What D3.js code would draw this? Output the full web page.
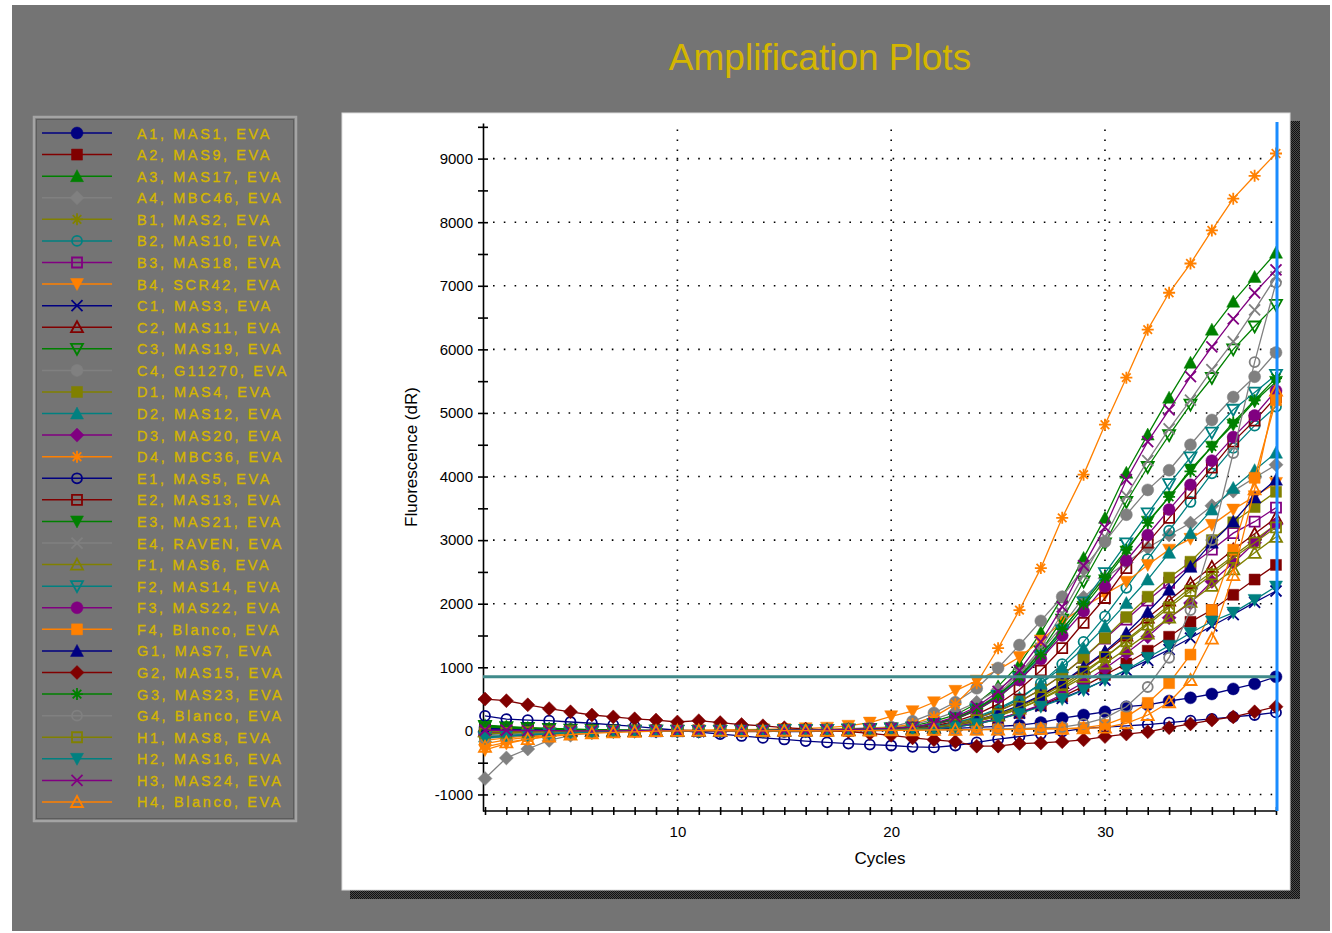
<!DOCTYPE html>
<html><head><meta charset="utf-8">
<script src="https://cdn.jsdelivr.net/npm/d3@7"></script>
<style>body{margin:0;background:#fff}svg{display:block}</style>
</head><body><svg id="c" width="1332" height="933"></svg>
<script>
const title = "Amplification Plots";
const xLabel = "Cycles";
const yLabel = "Fluorescence (dR)";
const labels = ["A1, MAS1, EVA","A2, MAS9, EVA","A3, MAS17, EVA","A4, MBC46, EVA","B1, MAS2, EVA","B2, MAS10, EVA","B3, MAS18, EVA","B4, SCR42, EVA","C1, MAS3, EVA","C2, MAS11, EVA","C3, MAS19, EVA","C4, G11270, EVA","D1, MAS4, EVA","D2, MAS12, EVA","D3, MAS20, EVA","D4, MBC36, EVA","E1, MAS5, EVA","E2, MAS13, EVA","E3, MAS21, EVA","E4, RAVEN, EVA","F1, MAS6, EVA","F2, MAS14, EVA","F3, MAS22, EVA","F4, Blanco, EVA","G1, MAS7, EVA","G2, MAS15, EVA","G3, MAS23, EVA","G4, Blanco, EVA","H1, MAS8, EVA","H2, MAS16, EVA","H3, MAS24, EVA","H4, Blanco, EVA"];
const colors = ["#000080","#800000","#008000","#808080","#808000","#008080","#800080","#ff8000",
  "#000080","#800000","#008000","#808080","#808000","#008080","#800080","#ff8000",
  "#000080","#800000","#008000","#808080","#808000","#008080","#800080","#ff8000",
  "#000080","#800000","#008000","#808080","#808000","#008080","#800080","#ff8000"];
const markers = ["circle","square","triangle","diamond","asterisk","ocircle","osquare","tridown","x","otriangle","otridown",
  "circle","square","triangle","diamond","asterisk","ocircle","osquare","tridown","x","otriangle","otridown",
  "circle","square","triangle","diamond","asterisk","ocircle","osquare","tridown","x","otriangle"];
const cycles = d3.range(1, 39);
const yTickValues = [-1000,0,1000,2000,3000,4000,5000,6000,7000,8000,9000];
const xTickValues = [10,20,30];
const threshold = 850;

const A1 = [50,40,30,25,20,15,10,10,5,5,0,0,-5,-5,-10,-10,-5,0,5, 10,20,30,40,55,70,90,130,200,250,300,380,410,470,520,580,660,740,850];
const A2 = [20,10,0,-10,-10,-5,0,0,5,5,0,-5,-10,-10,-5,0,0,5,10, 15,20,30,60,110,180,280,400,540,700,880,1060,1260,1480,1715,1900,2140,2380,2610];
const A3 = [90,70,50,40,30,20,15,10,10,5,5,0,0,0,5,5,10,15,25, 40,80,150,250,430,700,1050,1550,2100,2720,3350,4060,4660,5240,5790,6310,6750,7140,7520];
const A4 = [-750,-425,-285,-150,-70,-30,-10,0,10,10,5,0,0,5,5,10,15,20,30, 50,100,180,300,450,650,900,1250,1650,2100,2400,2650,2880,3080,3270,3540,3770,3980,4185];
const B1 = [-20,-10,-5,0,0,5,5,0,0,-5,-5,0,0,5,5,5,10,10,15, 20,30,50,90,150,230,350,500,680,900,1150,1430,1700,1980,2250,2500,2750,3000,3250];
const B2 = [-60,-40,-30,-20,-10,-5,0,0,5,5,0,0,-5,-5,0,0,5,10,15, 25,40,60,120,200,330,500,750,1050,1400,1800,2250,2700,3150,3600,4050,4450,4800,5100];
const B3 = [30,20,15,10,5,0,0,-5,-5,0,0,5,5,0,0,5,5,10,15, 25,40,60,120,200,310,460,650,880,1150,1450,1750,2050,2330,2600,2850,3110,3290,3510];
const B4 = [-300,-200,-130,-80,-40,-20,-10,0,5,10,10,15,20,25,30,40,50,80,130, 230,310,450,630,790,960,1160,1420,1715,1950,2150,2345,2610,2850,3020,3240,3480,3690,3900];
const C1 = [40,30,20,15,10,5,0,0,-5,-5,-10,-10,-5,-5,0,0,5,10,15, 20,30,40,70,120,190,280,390,510,650,800,950,1110,1280,1460,1650,1830,2020,2200];
const C2 = [0,0,5,5,0,0,-5,-5,0,0,5,5,0,0,5,10,10,15,20, 25,35,50,90,160,250,380,550,750,980,1230,1500,1780,2050,2320,2580,2850,3100,3350];
const C3 = [80,60,45,30,20,15,10,5,5,0,0,0,5,5,10,10,15,20,30, 40,50,100,190,330,550,850,1250,1750,2350,2950,3600,4150,4650,5130,5550,6000,6360,6700];
const C4 = [-40,-30,-20,-10,-5,0,5,5,10,10,5,5,10,10,15,20,25,35,45, 60,150,280,450,670,990,1350,1730,2110,2560,2975,3400,3790,4100,4500,4890,5250,5570,5950];
const D1 = [-50,-35,-25,-15,-10,-5,0,0,5,5,0,0,5,5,10,10,10,15,20, 30,45,60,120,200,310,460,650,880,1150,1460,1790,2110,2410,2660,3000,3280,3520,3760];
const D2 = [-90,-70,-50,-35,-20,-10,-5,0,0,5,5,0,0,5,5,10,10,15,20, 30,45,70,130,220,350,520,740,1000,1300,1640,2010,2380,2800,3110,3480,3820,4100,4375];
const D3 = [-30,-20,-15,-10,-5,0,0,5,5,0,0,-5,-5,0,0,5,5,10,15, 20,30,40,70,120,190,290,410,570,760,980,1220,1480,1780,2010,2350,2640,2960,3250];
const D4 = [-200,-140,-100,-70,-40,-20,-10,0,0,5,5,10,10,10,15,20,25,30,40, 50,110,220,420,750,1300,1900,2560,3350,4030,4815,5555,6310,6890,7350,7870,8370,8730,9080];
const E1 = [236,185,170,160,140,120,95,70,40,10,-20,-50,-80,-110,-135,-160,-180,-200,-215, -230,-250,-260,-230,-180,-130,-90,-50,-10,40,60,80,100,130,160,190,220,250,290];
const E2 = [10,5,0,0,-5,-5,0,0,5,5,5,0,0,5,5,10,10,15,20, 30,45,80,150,260,420,650,950,1300,1700,2090,2560,2960,3350,3740,4140,4550,4880,5250];
const E3 = [60,45,35,25,15,10,5,5,0,0,0,5,5,5,10,10,15,20,25, 35,50,100,180,320,520,800,1150,1550,1950,2370,2820,3290,3680,4110,4470,4815,5180,5490];
const E4 = [-80,-60,-40,-25,-15,-5,0,5,5,5,0,0,5,5,10,10,15,20,30, 40,50,110,200,350,580,900,1300,1850,2450,3050,3700,4250,4750,5200,5680,6120,6620,7140];
const F1 = [-10,-5,0,0,5,5,0,0,-5,-5,0,0,5,5,5,10,10,15,15, 20,30,50,90,150,240,350,490,660,850,1060,1290,1530,1780,2030,2280,2540,2800,3050];
const F2 = [-100,-75,-55,-40,-25,-15,-5,0,5,5,0,0,5,5,10,10,15,20,25, 35,50,110,200,340,550,830,1180,1580,2020,2480,2950,3420,3880,4300,4690,5050,5320,5600];
const F3 = [20,15,10,5,5,0,0,-5,-5,0,0,5,5,5,10,10,15,20,30, 40,50,100,190,330,530,800,1130,1500,1880,2270,2680,3080,3480,3870,4250,4620,4960,5350];
const F4 = [-150,-110,-80,-60,-40,-25,-15,-5,0,5,5,0,0,-5,-5,0,5,5,10, 10,15,15,20,20,25,25,30,30,50,95,220,440,750,1200,1900,2850,3980,5200];
const G1 = [30,20,15,10,5,5,0,0,-5,-5,0,0,5,5,5,10,10,15,15, 20,30,50,100,170,270,400,560,760,1000,1250,1540,1870,2220,2580,2960,3290,3670,3950];
const G2 = [500,475,410,350,300,250,220,190,170,140,160,130,100,80,50,30,10,-10,-40, -70,-110,-140,-170,-240,-240,-200,-190,-170,-140,-90,-50,-15,50,110,170,220,300,380];
const G3 = [70,55,40,30,20,10,5,5,0,0,5,5,5,10,10,15,20,25,30, 40,50,110,200,350,560,850,1200,1600,2000,2420,2850,3270,3680,4080,4470,4850,5200,5550];
const G4 = [-120,-90,-65,-45,-30,-20,-10,-5,0,0,5,5,0,0,5,5,10,10,10, 15,15,20,20,25,30,35,45,60,110,200,380,690,1150,1900,3000,4370,5800,7050];
const H1 = [-40,-30,-20,-10,-5,0,0,5,5,0,0,-5,0,0,5,5,10,10,15, 20,30,50,100,170,260,380,530,720,930,1160,1410,1670,1940,2200,2460,2720,2960,3200];
const H2 = [-110,-85,-65,-45,-30,-20,-10,-5,0,0,0,5,5,5,10,10,10,15,15, 20,25,30,60,110,180,270,380,500,640,800,960,1150,1340,1540,1720,1860,2060,2270];
const H3 = [10,10,5,5,0,0,0,5,5,5,0,0,5,5,10,10,15,20,30, 40,60,120,220,380,620,950,1400,1950,2600,3200,3950,4550,5050,5570,6040,6480,6890,7250];
const H4 = [-250,-180,-130,-90,-60,-40,-25,-15,-5,0,5,5,0,0,5,5,0,5,5, 10,10,15,15,20,20,25,30,35,40,50,120,250,450,800,1450,2450,3800,5350];

const seriesValues = [A1,A2,A3,A4,B1,B2,B3,B4,C1,C2,C3,C4,D1,D2,D3,D4,E1,E2,E3,E4,F1,F2,F3,F4,G1,G2,G3,G4,H1,H2,H3,H4];

const FONT = "'Liberation Sans', Arial, sans-serif";
const GOLD = "#d4b600";
const svg = d3.select("#c");

// background
svg.append("rect").attr("x",12).attr("y",5).attr("width",1318).attr("height",926).attr("fill","#747474");

// shadow pattern
const defs = svg.append("defs");
const pat = defs.append("pattern").attr("id","chk").attr("width",2).attr("height",2).attr("patternUnits","userSpaceOnUse");
pat.append("rect").attr("width",2).attr("height",2).attr("fill","#4a4a4a");
pat.append("rect").attr("width",1).attr("height",1).attr("fill","#111");
pat.append("rect").attr("x",1).attr("y",1).attr("width",1).attr("height",1).attr("fill","#111");

svg.append("rect").attr("x",350).attr("y",121).attr("width",950).attr("height",778).attr("fill","url(#chk)");
svg.append("rect").attr("x",342).attr("y",113).attr("width",948).attr("height",777).attr("fill","#fff").attr("stroke","#ddd").attr("stroke-width",1);

// title
svg.append("text").attr("x",820).attr("y",70).attr("text-anchor","middle")
  .attr("font-family",FONT).attr("font-size",37).attr("fill",GOLD).text(title);

// scales
const x = d3.scaleLinear().domain([1,38]).range([485,1276]);
const y = d3.scaleLinear().domain([-1260,9560]).range([811,123]);

// grid
const grid = svg.append("g");
grid.selectAll("line.h").data(yTickValues).join("line")
  .attr("x1",x(1)).attr("x2",x(38)).attr("y1",d=>y(d)).attr("y2",d=>y(d))
  .attr("stroke","#000").attr("stroke-width",1.6).attr("stroke-dasharray","1.6,9.2").attr("stroke-dashoffset",-8);
grid.selectAll("line.v").data(xTickValues).join("line")
  .attr("x1",d=>x(d)).attr("x2",d=>x(d)).attr("y1",y(-1260)).attr("y2",y(9560))
  .attr("stroke","#000").attr("stroke-width",1.6).attr("stroke-dasharray","1.6,8.4");

// axes
const yAxis = d3.axisLeft(y).tickValues(d3.range(-1000, 9501, 500)).tickSize(5).tickSizeOuter(0)
  .tickFormat(d => d % 1000 === 0 ? d : "");
const gy = svg.append("g").attr("transform",`translate(${x(1)-2},0)`).call(yAxis);
gy.selectAll(".tick line").attr("x1",5).attr("stroke-width",1.6);
gy.select(".domain").attr("stroke-width",1.6);
gy.selectAll("text").attr("font-family",FONT).attr("font-size",15).attr("x",-10).attr("fill","#000");

const xAxis = d3.axisBottom(x).tickValues(cycles).tickSize(4).tickSizeOuter(0)
  .tickFormat(d => xTickValues.includes(d) ? d : "");
const gx = svg.append("g").attr("transform",`translate(0,${y(-1260)})`).call(xAxis);
gx.selectAll(".tick line").attr("y1",-4).attr("stroke-width",1.6);
gx.select(".domain").attr("stroke-width",1.6).attr("d",`M${x(1)-2},0H${x(38)+1}`);
gx.selectAll("text").attr("font-family",FONT).attr("font-size",15).attr("y",15).attr("fill","#000");

svg.append("text").attr("x",880).attr("y",864).attr("text-anchor","middle")
  .attr("font-family",FONT).attr("font-size",17).text(xLabel);
svg.append("text").attr("transform","translate(417,457) rotate(-90)").attr("text-anchor","middle")
  .attr("font-family",FONT).attr("font-size",17).text(yLabel);

// marker shapes
function markerPath(t){
  switch(t){
    case "circle": return "M6,0A6,6 0 1 1 -6,0A6,6 0 1 1 6,0Z";
    case "ocircle": return "M5,0A5,5 0 1 1 -5,0A5,5 0 1 1 5,0Z";
    case "square": return "M-5.5,-5.5h11v11h-11Z";
    case "osquare": return "M-5,-5h10v10h-10Z";
    case "triangle": return "M0,-6.5L6.5,5.5L-6.5,5.5Z";
    case "otriangle": return "M0,-6L6,5L-6,5Z";
    case "tridown": return "M0,6.5L6.5,-5.5L-6.5,-5.5Z";
    case "otridown": return "M0,6L6,-5L-6,-5Z";
    case "diamond": return "M0,-7L7,0L0,7L-7,0Z";
    case "asterisk": return "M-6,0L6,0M0,-6L0,6M-4.3,-4.3L4.3,4.3M-4.3,4.3L4.3,-4.3";
    case "x": return "M-5.5,-5.5L5.5,5.5M-5.5,5.5L5.5,-5.5";
  }
}
const filled = t => ["circle","square","triangle","tridown","diamond"].includes(t);
function styleMarker(sel, t, c){
  if (filled(t)) sel.attr("fill",c).attr("stroke",c).attr("stroke-width",0.5);
  else sel.attr("fill","none").attr("stroke",c).attr("stroke-width",1.8);
}

// series
const line = d3.line().x((d,i)=>x(cycles[i])).y(d=>y(d));
const plot = svg.append("g");
seriesValues.forEach((vals,i)=>{
  const g = plot.append("g");
  g.append("path").attr("d",line(vals)).attr("fill","none").attr("stroke",colors[i]).attr("stroke-width",1.3);
  const m = g.selectAll("path.m").data(vals).join("path").attr("class","m")
    .attr("d",markerPath(markers[i]))
    .attr("transform",(d,k)=>`translate(${x(cycles[k])},${y(d)})`);
  styleMarker(m, markers[i], colors[i]);
});

// threshold line and cycle marker line
svg.append("line").attr("x1",x(1)-2).attr("x2",x(38)+1).attr("y1",y(threshold)).attr("y2",y(threshold))
  .attr("stroke","#3f8a8a").attr("stroke-width",3);
svg.append("line").attr("x1",x(38)+1).attr("x2",x(38)+1).attr("y1",122).attr("y2",y(-1260))
  .attr("stroke","#1a8cff").attr("stroke-width",3);

// legend
const lg = svg.append("g");
lg.append("rect").attr("x",34).attr("y",117).attr("width",262).attr("height",704)
  .attr("fill","#747474").attr("stroke","#a4a4a4").attr("stroke-width",2.5);
lg.append("rect").attr("x",36.5).attr("y",119.5).attr("width",257).attr("height",699)
  .attr("fill","none").attr("stroke","#5c5c5c").attr("stroke-width",1);
labels.forEach((lab,i)=>{
  const ry = 133 + i*21.58;
  lg.append("line").attr("x1",42).attr("x2",112).attr("y1",ry).attr("y2",ry).attr("stroke",colors[i]).attr("stroke-width",1.5);
  const m = lg.append("path").attr("d",markerPath(markers[i])).attr("transform",`translate(77,${ry})`);
  styleMarker(m, markers[i], colors[i]);
  lg.append("text").attr("x",137).attr("y",ry+5.5).attr("font-family",FONT).attr("font-size",14.5)
    .attr("letter-spacing","2.6px").attr("fill",GOLD).attr("stroke",GOLD).attr("stroke-width",0.35).text(lab);
});
</script></body></html>
